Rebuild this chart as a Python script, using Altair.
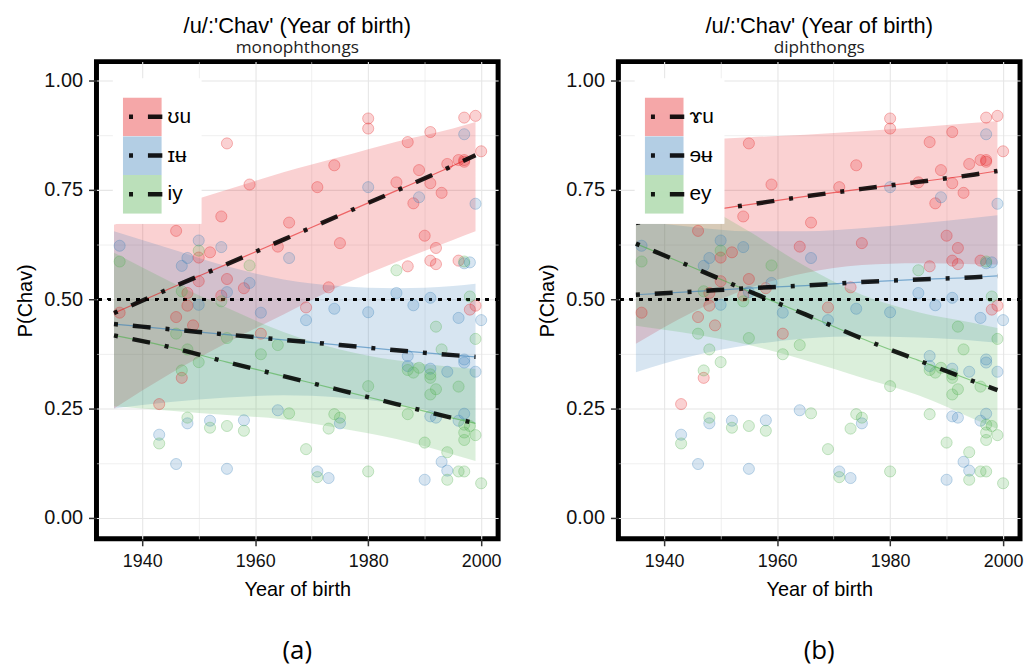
import altair as alt
import pandas as pd

# ---------------- data ----------------
RED_YEAR = [1955, 1980, 1980, 1997, 1999, 1991, 1987, 2000, 1974, 1994, 1996, 1997, 1997, 1989, 1959,
            1971, 1985, 1991, 1993, 1988, 1954, 1946, 1966, 1990, 1992, 1975, 1964, 1952, 1950, 1987,
            1991, 1992, 1996, 1955, 1950, 1958, 1973, 1954, 1948, 1948, 1936, 1969, 1999, 1998, 1946,
            1949, 1961, 1943, 1947]
RED_P = [0.856, 0.913, 0.890, 0.915, 0.919, 0.882, 0.859, 0.838, 0.806, 0.809, 0.818, 0.814, 0.818, 0.795, 0.762,
         0.756, 0.767, 0.765, 0.743, 0.719, 0.689, 0.656, 0.675, 0.645, 0.617, 0.628, 0.620, 0.607, 0.595, 0.575,
         0.588, 0.580, 0.588, 0.546, 0.541, 0.525, 0.527, 0.508, 0.514, 0.485, 0.469, 0.481, 0.485, 0.476, 0.459,
         0.440, 0.421, 0.260, 0.320]
BLUE_YEAR = [1997, 1980, 1989, 1999, 1936, 1950, 1954, 1948, 1947, 1966, 1997, 1998, 1959, 1955, 1985,
             1991, 1950, 1988, 1961, 1974, 1980, 1969, 1996, 2000, 1987, 1987, 1991, 1994, 1997, 1997,
             1999, 1964, 1991, 1992, 1997, 1996, 1975, 1948, 1952, 1958, 1943, 1946, 1955, 1971, 1973,
             1993, 1994, 1990]
BLUE_P = [0.877, 0.756, 0.733, 0.718, 0.622, 0.634, 0.619, 0.594, 0.576, 0.594, 0.582, 0.584, 0.537, 0.516, 0.514,
          0.503, 0.487, 0.486, 0.469, 0.478, 0.470, 0.452, 0.457, 0.452, 0.370, 0.347, 0.341, 0.334, 0.362, 0.355,
          0.334, 0.246, 0.232, 0.229, 0.238, 0.222, 0.216, 0.216, 0.222, 0.223, 0.190, 0.123, 0.112, 0.106, 0.091,
          0.128, 0.108, 0.087]
GREEN_YEAR = [1936, 1950, 1959, 1985, 1997, 1947, 1954, 1998, 1992, 1946, 1955, 1964, 1999, 1993, 1961,
              1948, 1950, 1947, 1987, 1988, 1989, 1991, 1991, 1992, 1991, 1996, 1980, 1987, 1997, 1997,
              1997, 1998, 1999, 1990, 1994, 1994, 1996, 1997, 2000, 1980, 1971, 1969, 1973, 1974, 1975,
              1966, 1948, 1952, 1955, 1958, 1943]
GREEN_P = [0.586, 0.611, 0.577, 0.566, 0.586, 0.518, 0.495, 0.506, 0.437, 0.421, 0.411, 0.395, 0.409, 0.385, 0.374,
           0.385, 0.356, 0.337, 0.338, 0.332, 0.343, 0.328, 0.320, 0.294, 0.282, 0.300, 0.301, 0.237, 0.213, 0.195,
           0.178, 0.210, 0.189, 0.172, 0.150, 0.087, 0.106, 0.106, 0.079, 0.106, 0.093, 0.157, 0.204, 0.237, 0.229,
           0.239, 0.229, 0.206, 0.210, 0.199, 0.170]

FIT_YEAR = [1935, 1945, 1955, 1965, 1975, 1985, 1995, 1999]

# panel (a) monophthongs
A_RED_FIT = [0.468, 0.525, 0.580, 0.636, 0.692, 0.748, 0.805, 0.829]
A_RED_LO = [0.250, 0.330, 0.400, 0.465, 0.530, 0.585, 0.635, 0.655]
A_RED_HI = [0.670, 0.710, 0.750, 0.790, 0.825, 0.860, 0.890, 0.905]
A_BLUE_FIT = [0.443, 0.431, 0.419, 0.407, 0.395, 0.383, 0.372, 0.368]
A_BLUE_LO = [0.250, 0.265, 0.275, 0.280, 0.275, 0.260, 0.230, 0.215]
A_BLUE_HI = [0.655, 0.615, 0.575, 0.545, 0.530, 0.525, 0.530, 0.535]
A_GREEN_FIT = [0.417, 0.390, 0.356, 0.324, 0.292, 0.260, 0.228, 0.216]
A_GREEN_LO = [0.255, 0.245, 0.235, 0.225, 0.205, 0.180, 0.145, 0.130]
A_GREEN_HI = [0.606, 0.540, 0.480, 0.425, 0.385, 0.360, 0.345, 0.340]

# panel (b) diphthongs
B_RED_FIT = [0.674, 0.697, 0.716, 0.735, 0.752, 0.768, 0.785, 0.793]
B_RED_LO = [0.398, 0.470, 0.525, 0.560, 0.578, 0.582, 0.580, 0.579]
B_RED_HI = [0.850, 0.862, 0.870, 0.876, 0.884, 0.893, 0.903, 0.907]
B_BLUE_FIT = [0.510, 0.517, 0.525, 0.531, 0.539, 0.545, 0.550, 0.553]
B_BLUE_LO = [0.333, 0.370, 0.395, 0.410, 0.415, 0.412, 0.405, 0.400]
B_BLUE_HI = [0.680, 0.665, 0.655, 0.655, 0.662, 0.673, 0.686, 0.692]
B_GREEN_FIT = [0.627, 0.573, 0.518, 0.465, 0.410, 0.360, 0.311, 0.292]
B_GREEN_LO = [0.439, 0.420, 0.395, 0.360, 0.320, 0.280, 0.225, 0.203]
B_GREEN_HI = [0.800, 0.730, 0.655, 0.575, 0.510, 0.470, 0.445, 0.434]

LABELS_A = ["ʊu", "ɪʉ", "iy"]
LABELS_B = ["ɤu", "ɘʉ", "ey"]
COLORS = ["#E41A1C", "#377EB8", "#4DAF4A"]
TITLE = "/u/:'Chav' (Year of birth)"

SANS = "Liberation Sans, Arial, Helvetica, sans-serif"
DASH = [4, 15, 18, 15]
W, H = 404, 480


def points_frame(labels):
    rows = []
    for lab, xs, ys in zip(labels, [RED_YEAR, BLUE_YEAR, GREEN_YEAR], [RED_P, BLUE_P, GREEN_P]):
        for x, y in zip(xs, ys):
            rows.append({"year": x, "p": y, "s": lab, "sc": lab})
    return pd.DataFrame(rows)


def fit_frame(labels, fits, los, his):
    rows = []
    for lab, f, lo, hi in zip(labels, fits, los, his):
        for x, a, b, c in zip(FIT_YEAR, f, lo, hi):
            rows.append({"year": x, "fit": a, "lo": b, "hi": c, "s": lab, "s2": lab, "sc": lab})
    return pd.DataFrame(rows)


xscale = alt.Scale(domain=[1931.9, 2003.0], nice=False, zero=False)
yscale = alt.Scale(domain=[-0.048, 1.043], nice=False, zero=False)

x_minor = "datum.value % 20 != 0"
y_minor = "abs(datum.value * 4 - round(datum.value * 4)) > 0.01"

xaxis = alt.Axis(
    values=[1940, 1950, 1960, 1970, 1980, 1990, 2000],
    labelExpr="datum.value % 20 == 0 ? format(datum.value, 'd') : ''",
    gridColor="#e6e6e6",
    gridWidth={"condition": {"test": x_minor, "value": 0.6}, "value": 1.1},
    tickOpacity={"condition": {"test": x_minor, "value": 0}, "value": 1},
    domain=False, tickSize=7, tickWidth=1.5, tickColor="#333333",
    labelFont=SANS, labelFontSize=18, labelColor="#111111", labelPadding=7,
    labelOverlap=False, labelFlush=False,
    titleFont=SANS, titleFontSize=20, titleFontWeight="normal", titleColor="black", titlePadding=9,
)
yaxis = alt.Axis(
    values=[0, 0.125, 0.25, 0.375, 0.5, 0.625, 0.75, 0.875, 1.0],
    labelExpr="abs(datum.value * 4 - round(datum.value * 4)) < 0.01 ? format(datum.value, '.2f') : ''",
    gridColor="#e6e6e6",
    gridWidth={"condition": {"test": y_minor, "value": 0.6}, "value": 1.1},
    tickOpacity={"condition": {"test": y_minor, "value": 0}, "value": 1},
    domain=False, tickSize=8, tickWidth=1.5, tickColor="#333333",
    labelFont=SANS, labelFontSize=20, labelColor="#111111", labelPadding=6,
    labelOverlap=False,
    titleFont=SANS, titleFontSize=20, titleFontWeight="normal", titleColor="black", titlePadding=8,
)


def panel(labels, subtitle, caption, fits, los, his):
    pts = points_frame(labels)
    fdf = fit_frame(labels, fits, los, his)

    X = alt.X("year:Q", scale=xscale, axis=xaxis, title="Year of birth")

    def Y(field):
        return alt.Y(field, type="quantitative", scale=yscale, axis=yaxis, title="P(Chav)")

    fill_legend = alt.Legend(
        title=" ", titleFontSize=6, titlePadding=3, orient="none", legendX=16.5, legendY=17,
        fillColor="white", padding=10, symbolType="square", symbolSize=1406,
        symbolStrokeColor="#555555", symbolStrokeWidth=1.5, symbolOpacity=0.38,
        labelFont=SANS, labelFontSize=21, labelColor="black", labelOffset=6, labelLimit=200,
        rowPadding=0, clipHeight=39, zindex=1,
    )
    dash_legend = alt.Legend(
        title=" ", titleFontSize=6, titlePadding=3, orient="none", legendX=16.5, legendY=17,
        padding=10, symbolType="stroke", symbolSize=1406, symbolStrokeColor="black",
        symbolStrokeWidth=4.5, symbolDashOffset=-4, symbolOpacity=0.9,
        labelExpr="''", labelFont=SANS, labelFontSize=21, labelColor="transparent",
        labelOffset=6, labelLimit=200, rowPadding=0, clipHeight=39, zindex=2,
    )
    fill_enc = alt.Fill("s:N", scale=alt.Scale(domain=labels, range=COLORS), legend=fill_legend)
    stroke_enc = alt.Stroke("sc:N", scale=alt.Scale(domain=labels, range=COLORS), legend=None)
    dash_enc = alt.StrokeDash("s2:N", scale=alt.Scale(domain=labels, range=[DASH, DASH, DASH]),
                              legend=dash_legend)

    bands = alt.Chart(fdf).mark_area(opacity=0.2, interpolate="monotone").encode(
        x=X, y=Y("lo"), y2="hi", fill=fill_enc)
    half = alt.Chart(fdf).mark_rule(color="black", strokeDash=[3, 6.5], strokeWidth=2.5).encode(
        y=alt.Y(datum=0.5, type="quantitative", scale=yscale, axis=yaxis, title="P(Chav)"))
    dots = alt.Chart(pts).mark_circle(size=125, fillOpacity=0.2, strokeOpacity=0.3, strokeWidth=1).encode(
        x=X, y=Y("p"), fill=fill_enc, stroke=stroke_enc)
    thin = alt.Chart(fdf).mark_line(strokeWidth=1.2, opacity=0.6, interpolate="monotone").encode(
        x=X, y=Y("fit"), stroke=stroke_enc)
    thick = alt.Chart(fdf).mark_line(color="black", strokeWidth=4.5, opacity=0.88, strokeCap="butt",
                                     interpolate="monotone").encode(
        x=X, y=Y("fit"), strokeDash=dash_enc)

    layered = alt.layer(bands, half, dots, thin, thick).properties(
        width=W, height=H,
        title=alt.TitleParams(
            text=TITLE, subtitle=subtitle, anchor="middle", frame="group",
            font=SANS, fontSize=22, fontWeight="normal", color="black",
            subtitleFont="Open Sans", subtitleFontSize=17.3, subtitleColor="#222222",
            subtitlePadding=1, offset=4,
        ),
    ).resolve_scale(fill="independent", stroke="independent", strokeDash="independent")

    return alt.vconcat(layered, title=alt.TitleParams(
        text=caption, orient="bottom", anchor="middle", frame="group", dx=W / 2,
        font="Open Sans", fontSize=26, fontWeight="normal", color="black", offset=36,
    )).resolve_scale(fill="independent", stroke="independent", strokeDash="independent")


pa = panel(LABELS_A, "monophthongs", "(a)", [A_RED_FIT, A_BLUE_FIT, A_GREEN_FIT],
           [A_RED_LO, A_BLUE_LO, A_GREEN_LO], [A_RED_HI, A_BLUE_HI, A_GREEN_HI])
pb = panel(LABELS_B, "diphthongs", "(b)", [B_RED_FIT, B_BLUE_FIT, B_GREEN_FIT],
           [B_RED_LO, B_BLUE_LO, B_GREEN_LO], [B_RED_HI, B_BLUE_HI, B_GREEN_HI])

chart = alt.hconcat(pa, pb, spacing=31).resolve_scale(
    fill="independent", stroke="independent", strokeDash="independent"
).properties(
    padding={"left": 5, "top": 3, "right": 0, "bottom": 0}
).configure(background="white").configure_view(stroke="black", strokeWidth=5)

chart.save("out.html", embed_options={"renderer": "svg", "actions": False})
